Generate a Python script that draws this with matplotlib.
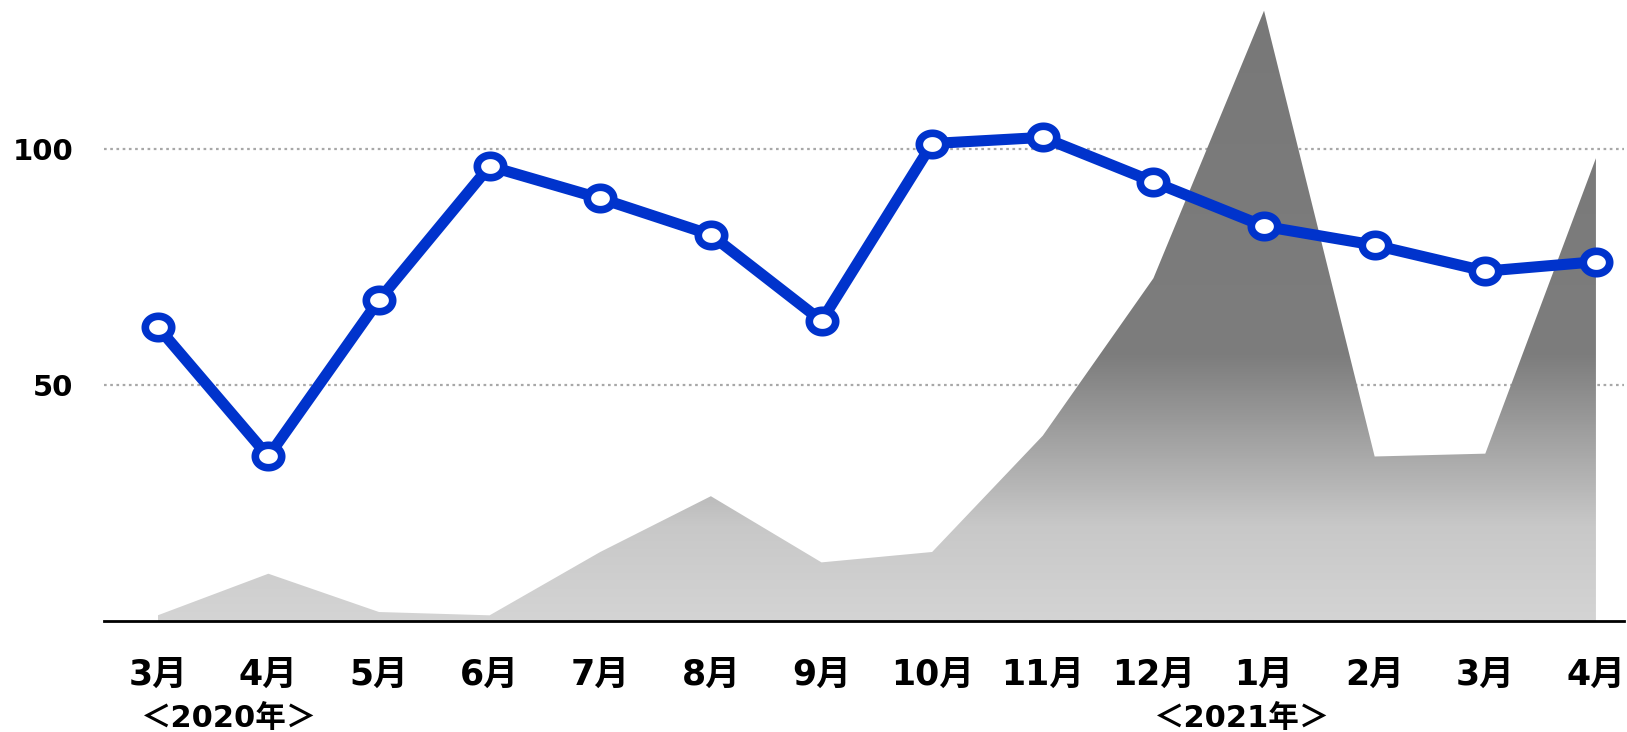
import numpy as np
import matplotlib
matplotlib.use("Agg")
import matplotlib.pyplot as plt
from matplotlib.path import Path
from matplotlib.colors import LinearSegmentedColormap

plt.rcParams['font.family'] = ['DejaVu Sans', 'Noto Sans CJK JP']

months = ['3月', '4月', '5月', '6月', '7月', '8月', '9月', '10月', '11月', '12月',
          '1月', '2月', '3月', '4月']
line_values = [62.3, 34.9, 68.0, 96.3, 89.5, 81.8, 63.6, 101.1, 102.4, 93.0,
               83.6, 79.6, 74.1, 76.1]
area_values = [1.3, 10.1, 2.0, 1.3, 14.7, 26.5, 12.5, 14.7, 39.3, 72.6,
               129.2, 34.9, 35.5, 98.0]
y_ticks = [50, 100]
year_labels = ['＜2020年＞', '＜2021年＞']
year_positions = [0.64, 9.8]

fig = plt.figure(figsize=(16.27, 7.32), dpi=100)
ax = fig.add_axes([0.0639, 0.151, 0.934, 0.846])

x = np.arange(len(months))
ymax = 131

# gradient filled area
poly = ax.fill_between(x, 0, area_values, color='none', lw=0, zorder=1)
cmap = LinearSegmentedColormap.from_list(
    'g', [(0.0, '#d4d4d4'), (20 / ymax, '#c8c8c8'), (56 / ymax, '#7d7d7d'),
          (1.0, '#787878')])
grad = np.linspace(0, 1, 512).reshape(-1, 1)
im = ax.imshow(grad, cmap=cmap, aspect='auto', origin='lower',
               extent=[x[0], x[-1], 0, ymax], zorder=1, interpolation='bilinear')
path = poly.get_paths()[0]
im.set_clip_path(path, transform=ax.transData)
ax.set_xlim(-0.486, 13.25)
ax.set_ylim(0, ymax)

# gridlines
for yv in y_ticks:
    ax.axhline(yv, color='#a8a8a8', lw=1.6, ls=(0, (1.2, 1.6)), zorder=0.5)

# ellipse marker
t = np.linspace(0, 2 * np.pi, 64)
verts = np.column_stack([np.cos(t), 0.85 * np.sin(t)])
ell = Path(verts, closed=True)

ax.plot(x, line_values, color='#0033cc', lw=8, marker=ell, markersize=19,
        markerfacecolor='white', markeredgecolor='#0033cc', markeredgewidth=5.5,
        zorder=3, solid_joinstyle='round')

for s in ['top', 'right', 'left']:
    ax.spines[s].set_visible(False)
ax.spines['bottom'].set_linewidth(2)
ax.spines['bottom'].set_color('black')
ax.spines['bottom'].set_zorder(4)

ax.set_yticks(y_ticks)
ax.set_yticklabels([str(v) for v in y_ticks], fontsize=21, fontweight='bold')
ax.tick_params(axis='y', length=0, pad=22)
ax.set_xticks(x)
ax.set_xticklabels(months, fontsize=25, fontweight='bold')
ax.tick_params(axis='x', length=0, pad=26)

for lab, pos in zip(year_labels, year_positions):
    ax.text(pos, -0.157, lab, transform=ax.get_xaxis_transform(), ha='center',
            va='center', fontsize=22, fontweight='bold')

fig.savefig('out.png', dpi=100)
